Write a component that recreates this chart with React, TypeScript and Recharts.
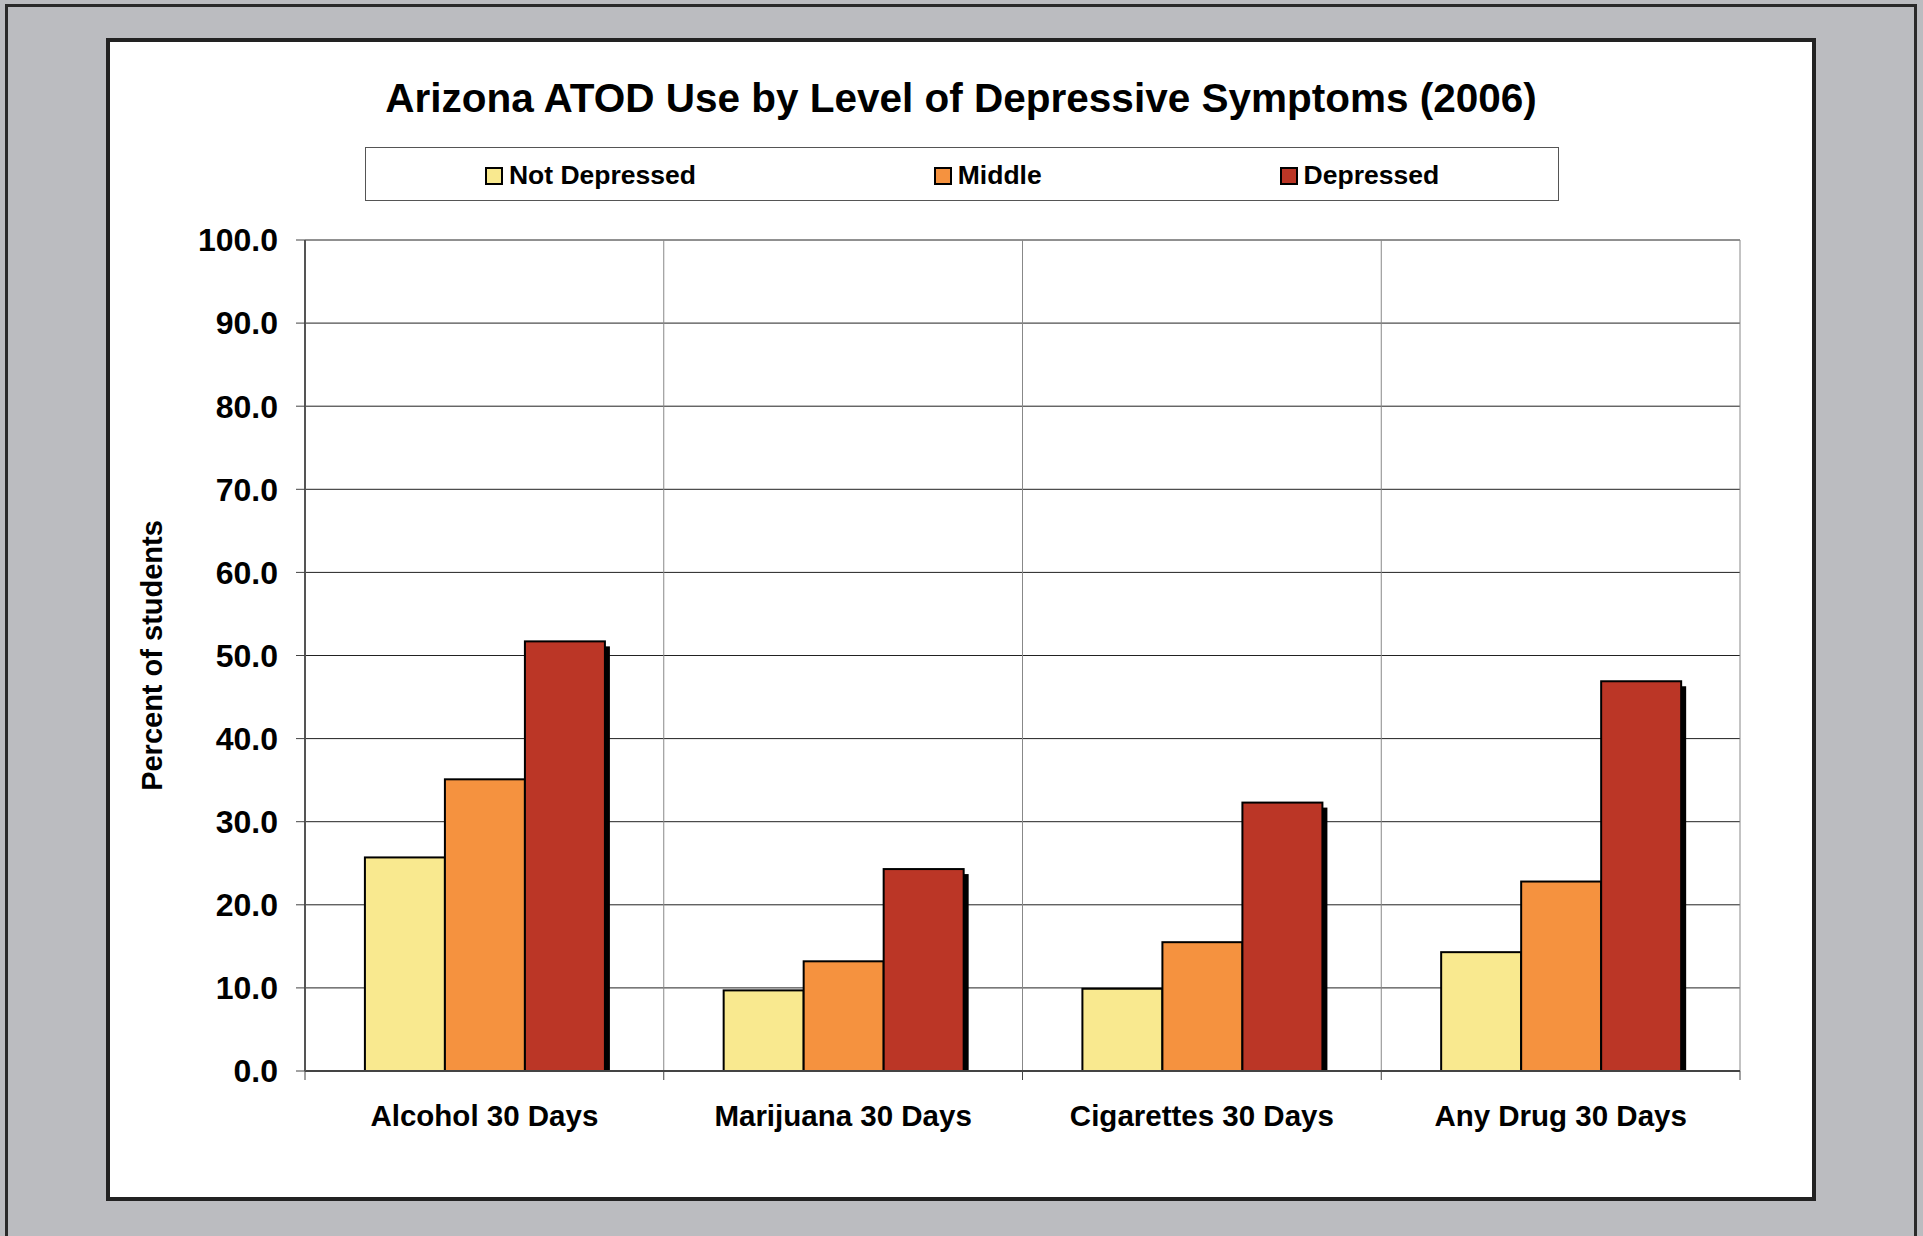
import { BarChart, Bar, XAxis, YAxis, CartesianGrid, Legend } from "recharts";

const CATEGORIES = ["Alcohol 30 Days", "Marijuana 30 Days", "Cigarettes 30 Days", "Any Drug 30 Days"];
const SERIES_NAMES = ["Not Depressed", "Middle", "Depressed"];
const NOT_DEPRESSED = [25.7, 9.7, 9.9, 14.3];
const MIDDLE = [35.1, 13.2, 15.5, 22.8];
const DEPRESSED = [51.7, 24.3, 32.3, 46.9];
const Y_TICKS = [0, 10, 20, 30, 40, 50, 60, 70, 80, 90, 100];

const data = CATEGORIES.map((name, i) => ({
  name,
  notDepressed: NOT_DEPRESSED[i],
  middle: MIDDLE[i],
  depressed: DEPRESSED[i],
}));

const FONT = '"Liberation Sans", Arial, Helvetica, sans-serif';
const W = 1923;
const H = 1236;
const PLOT_LEFT = 305;
const PLOT_RIGHT = 1740;
const PLOT_TOP = 240;
const PLOT_BOTTOM = 1071;
const Y_AXIS_W = 200;
const X_AXIS_H = 60;
const BAND = (PLOT_RIGHT - PLOT_LEFT) / CATEGORIES.length;

// bar with a small black drop shadow to the lower right
const ShadowBar = (props: any) => {
  const { x, y, width, height, fill } = props;
  if (!height) return null;
  return (
    <g>
      <rect x={x + 5} y={y + 5} width={width} height={Math.max(height - 5, 0)} fill="#000" />
      <rect x={x} y={y} width={width} height={height} fill={fill} stroke="#000" strokeWidth={2} />
    </g>
  );
};

const CategoryTick = (props: any) => {
  const { x, y, payload, index } = props;
  return (
    <g>
      <line x1={x - BAND / 2} y1={y} x2={x - BAND / 2} y2={y + 9} stroke="#444" strokeWidth={1} />
      {index === CATEGORIES.length - 1 && (
        <line x1={x + BAND / 2} y1={y} x2={x + BAND / 2} y2={y + 9} stroke="#444" strokeWidth={1} />
      )}
      <text x={x} y={y + 55} textAnchor="middle" fontSize={29.5} fontWeight="bold" fill="#000">
        {payload.value}
      </text>
    </g>
  );
};

const LegendBox = (props: any) => {
  const items = [...(props.payload || [])].sort(
    (a: any, b: any) => SERIES_NAMES.indexOf(a.value) - SERIES_NAMES.indexOf(b.value)
  );
  return (
    <div
      style={{
        boxSizing: "border-box",
        width: "100%",
        height: "100%",
        border: "1px solid #555",
        background: "#fff",
        display: "flex",
        justifyContent: "space-around",
        alignItems: "center",
        paddingTop: 3,
        fontFamily: FONT,
        fontWeight: "bold",
        fontSize: 26.5,
        color: "#000",
      }}
    >
      {items.map((p: any) => (
        <div key={p.value} style={{ display: "flex", alignItems: "center" }}>
          <span
            style={{
              display: "inline-block",
              boxSizing: "border-box",
              width: 18,
              height: 18,
              background: p.color,
              border: "2px solid #000",
              marginRight: 6,
            }}
          />
          <span>{p.value}</span>
        </div>
      ))}
    </div>
  );
};

export default function App() {
  return (
    <div
      style={{
        position: "absolute",
        left: 0,
        top: 0,
        width: W,
        height: H,
        background: "#bbbcc0",
        overflow: "hidden",
        fontFamily: FONT,
      }}
    >
      <div
        style={{
          position: "absolute",
          left: 5,
          top: 4,
          width: 1912,
          height: H,
          boxSizing: "border-box",
          borderTop: "3px solid #2a2a2a",
          borderLeft: "3px solid #2a2a2a",
          borderRight: "3px solid #2a2a2a",
        }}
      />
      <div
        style={{
          position: "absolute",
          left: 106,
          top: 38,
          width: 1710,
          height: 1163,
          boxSizing: "border-box",
          border: "4px solid #222",
          background: "#fff",
        }}
      />
      <div
        style={{
          position: "absolute",
          left: 106,
          width: 1710,
          top: 75,
          textAlign: "center",
          fontSize: 40.5,
          fontWeight: "bold",
          color: "#000",
        }}
      >
        Arizona ATOD Use by Level of Depressive Symptoms (2006)
      </div>
      <div style={{ position: "absolute", left: 0, top: 0 }}>
        <BarChart
          width={W}
          height={H}
          data={data}
          margin={{
            top: PLOT_TOP,
            right: W - PLOT_RIGHT,
            bottom: H - PLOT_BOTTOM - X_AXIS_H,
            left: PLOT_LEFT - Y_AXIS_W,
          }}
          barCategoryGap="16.7%"
          barGap={0}
          style={{ fontFamily: FONT }}
        >
          <CartesianGrid vertical={false} stroke="#222" strokeWidth={1} />
          <CartesianGrid
            horizontal={false}
            stroke="#888"
            strokeWidth={1}
            verticalCoordinatesGenerator={({ offset }: any) =>
              [0, 1, 2, 3, 4].map((i) => offset.left + (offset.width * i) / 4)
            }
          />
          <XAxis
            dataKey="name"
            height={X_AXIS_H}
            tickLine={false}
            tickSize={0}
            tickMargin={0}
            axisLine={{ stroke: "#444", strokeWidth: 2 }}
            tick={<CategoryTick />}
            interval={0}
          />
          <YAxis
            width={Y_AXIS_W}
            domain={[0, 100]}
            ticks={Y_TICKS}
            tickFormatter={(v: number) => v.toFixed(1)}
            tickSize={9}
            tickMargin={18}
            tickLine={{ stroke: "#444" }}
            axisLine={{ stroke: "#555", strokeWidth: 2 }}
            tick={{ fontSize: 32, fontWeight: "bold", fill: "#000" }}
            label={{
              content: ({ viewBox }: any) => {
                const cx = viewBox.x + 47;
                const cy = viewBox.y + viewBox.height / 2;
                return (
                  <text
                    x={cx}
                    y={cy}
                    transform={`rotate(-90 ${cx} ${cy})`}
                    textAnchor="middle"
                    dominantBaseline="central"
                    fontSize={29}
                    fontWeight="bold"
                    fill="#000"
                  >
                    Percent of students
                  </text>
                );
              },
            }}
          />
          <Legend
            verticalAlign="middle"
            align="center"
            content={<LegendBox />}
            wrapperStyle={{ left: 365, top: 147, width: 1194, height: 54 }}
          />
          <Bar dataKey="notDepressed" name="Not Depressed" fill="#f9e98f" shape={<ShadowBar />} isAnimationActive={false} />
          <Bar dataKey="middle" name="Middle" fill="#f5923f" shape={<ShadowBar />} isAnimationActive={false} />
          <Bar dataKey="depressed" name="Depressed" fill="#bb3626" shape={<ShadowBar />} isAnimationActive={false} />
        </BarChart>
      </div>
    </div>
  );
}
